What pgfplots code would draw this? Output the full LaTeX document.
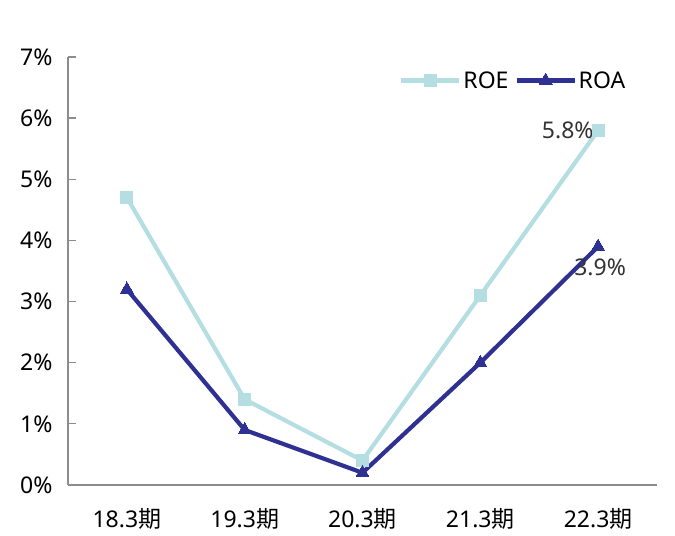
\documentclass[border=0pt]{standalone}
\usepackage{fontspec}
\setmainfont{Noto Sans}
\newfontfamily\cjk{Noto Sans CJK JP}
\usepackage{pgfplots}
\pgfplotsset{compat=1.18}
\definecolor{roe}{HTML}{B5DEE2}
\definecolor{roa}{HTML}{2E3192}
\definecolor{axgray}{HTML}{8C8C8C}
\begin{document}
\begin{tikzpicture}
\begin{axis}[
  scale only axis,
  width=589pt, height=428pt,
  xmin=-0.5, xmax=4.5, ymin=0, ymax=7,
  axis x line*=bottom, axis y line*=left,
  axis line style={axgray, line width=1.3pt},
  every tick/.style={axgray, line width=1.3pt},
  tick align=inside,
  major tick length=8pt,
  minor tick length=8pt,
  xtick={0,1,2,3,4},
  xticklabels={18.3{\cjk 期},19.3{\cjk 期},20.3{\cjk 期},21.3{\cjk 期},22.3{\cjk 期}},
  x tick style={draw=none},
  minor xtick={-0.5,0.5,1.5,2.5,3.5,4.5},
  minor x tick style={axgray, line width=1.3pt},
  ytick={0,1,...,7},
  yticklabel={\pgfmathprintnumber{\tick}\%},
  /pgf/number format/assume math mode=true,
  ticklabel style={font=\fontsize{23}{26}\selectfont, text=black},
  yticklabel style={xshift=-12pt},
  xticklabel style={yshift=-20pt},
  legend style={draw=none, fill=none, at={(rel axis cs:0.557,0.945)}, anchor=west,
    font=\fontsize{23}{26}\selectfont, legend columns=2,
    /tikz/every even column/.append style={column sep=4pt}},
  legend image code/.code={
    \draw[#1, mark repeat=2, mark phase=2] plot coordinates {(0pt,0pt) (29pt,0pt) (58pt,0pt)};
  },
  clip=false,
]
\path ([xshift=-68pt,yshift=-51pt]rel axis cs:0,0) rectangle ([xshift=18pt,yshift=57pt]rel axis cs:1,1);
\addplot[roe, line width=4.2pt, mark=square*, mark size=6pt, mark options={line width=0pt}] coordinates {(0,4.7) (1,1.4) (2,0.4) (3,3.1) (4,5.8)};
\addlegendentry{ROE}
\addplot[roa, line width=4.2pt, mark=triangle*, mark size=7.5pt, mark options={line width=0pt}] coordinates {(0,3.2) (1,0.9) (2,0.2) (3,2.0) (4,3.9)};
\addlegendentry{ROA}
\node[anchor=east, font=\fontsize{23}{26}\selectfont, text=black!80] at ([xshift=-1pt]axis cs:4,5.8) {5.8\%};
\node[anchor=north, font=\fontsize{23}{26}\selectfont, text=black!80] at ([xshift=2pt,yshift=-9pt]axis cs:4,3.9) {3.9\%};
\end{axis}
\end{tikzpicture}
\end{document}
